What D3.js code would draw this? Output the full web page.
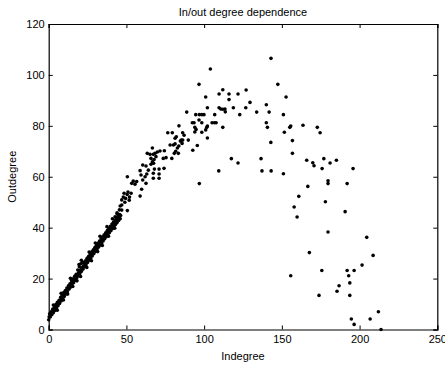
<!DOCTYPE html>
<html>
<head>
<meta charset="utf-8">
<script src="https://cdn.jsdelivr.net/npm/d3@7"></script>
<style>
  body { margin: 0; background: #fff; }
  text { font-family: "Liberation Sans", Arial, sans-serif; }
</style>
</head>
<body>
<script>
// indegree vs outdegree

// dense band near the origin
const band = [
  [0,3.8],[0.3,5],[0.6,6.2],[1,4.9],[1.2,6],[1.5,7],[2,5.8],[2.3,6.9],[2.6,8],
  [3,6.6],[3.3,7.8],[3.7,8.8],[4,7.5],[4.2,8.7],[4.6,9.8],[5,8.4],[5.3,9.6],[5.6,10.7],
  [6,9.3],[6.4,10.6],[6.7,11.5],[7,10.2],[7.3,11.4],[7.7,12.6],[8,11.2],[8.4,12.5],[8.7,13.4],
  [9,12.1],[9.3,13.2],[9.7,14.5],[10,13],[10.4,14.3],[10.7,15.3],[11,13.9],[11.3,15.2],[11.7,16.3],
  [12,14.8],[12.4,16.1],[12.7,17.2],[13,15.8],[13.3,17],[13.7,18],[14,16.6],[14.4,17.9],[14.7,19.1],
  [15,17.5],[15.3,18.8],[15.7,19.9],[16,18.4],[16.4,19.7],[16.7,20.9],[17,19.3],[17.3,20.6],[17.7,21.7],
  [18,20.2],[18.4,21.5],[18.7,23.4],[19,21],[19.3,22.4],[19.7,24.6],[20,21.9],[20.4,23.3],[20.7,25.8],
  [21,22.8],[21.3,24.2],[21.7,26.3],[22,23.7],[22.4,25],[22.7,26.4],[23,24.6],[23.3,25.9],[23.7,27],
  [24,25.4],[24.4,26.8],[24.7,28],[25,26.3],[25.3,27.6],[25.7,28.8],[26,27.2],[26.4,28.5],[26.7,29.7],
  [27,28],[27.3,29.3],[27.7,30.5],[28,28.9],[28.4,30.2],[28.7,31.3],[29,29.8],[29.3,31],[29.7,32.2],
  [30,30.6],[30.4,31.9],[30.7,33],[31,31.4],[31.3,32.7],[31.7,33.9],[32,32.3],[32.4,33.5],[32.7,34.7],
  [33,33.1],[33.3,34.4],[33.7,35.6],[34,33.9],[34.4,35.2],[34.7,36.4],[35,34.8],[35.3,36],[35.7,37.2],
  [36,35.6],[36.4,36.9],[36.7,38],[37,36.4],[37.3,37.7],[37.7,38.9],[38,37.2],[38.4,38.5],[38.7,39.7],
  [39,38],[39.3,39.3],[39.7,40.5],[40,38.8],[40.4,40.1],[40.7,41.4],[41,39.6],[41.3,40.9],[41.7,42.2],
  [42,40.4],[42.4,41.7],[42.7,43],[43,41.2],[43.3,42.5],[43.7,43.8],[44,42],[44.4,43.3],[44.7,44.5],
  [45,42.8],[45.3,44],[45.7,45.2],[46,43.5],[46.3,44.8]
];

// stray points along the edges of the band
const bandEdges = [
  [5.5,7.6],[9.5,11.6],[12.2,13.9],[15.5,16.9],[18.2,19.1],[20.5,20.8],[24.5,24.4],[27.5,27],
  [31.5,30.6],[34.5,33],[38.5,36.6],[42.5,39.8],[3,9.6],[8,14.2],[14,20.1],[19.5,25.5],
  [21,27.2],[26,30.4],[30,34],[33,36.6],[37.5,40.4],[41,43.5],[44,45.8]
];

// middle part, x 42..86
const middle = [
  [47,50.9],[47,48.9],[47,46.9],[50.6,46.7],[48,52],[48.5,53.5],[49.5,51.5],[50.5,53],[51,54],
  [52,52],[53,53.5],[49,50],[51.8,50.8],[44,45.5],[42.7,44.3],[44.8,45],[45.5,47],[46,48.5],
  [50.6,60],[54.4,58.3],[53.4,57.4],[55.5,57.1],[56.6,58.1],[59.8,55.1],[58.8,52.4],[58.8,62.4],
  [59.4,60.7],[60.5,58.7],[62.6,57.4],[60.5,64.6],[62.6,64.2],[65.8,64.9],[62,60],[63.1,61.1],
  [64.1,62.6],[68,63],[71,63],[74.2,63.3],[67.3,61.4],[71,61.1],[67.3,59.4],[71,59.4],[67.5,65.3],
  [63.4,69.2],[65.2,68.8],[67.3,68.8],[68.4,69.2],[65.8,67.2],[66.7,65.9],[67.8,66.8],[69,67.9],
  [66.7,71.3],[69.9,69.7],[71.6,70.1],[74.4,70.2],[73.7,67.2],[75.5,67.5],[79.2,67.2],[76.6,77.3],
  [79.5,77.3],[82.1,75.7],[81.3,75.1],[84.7,74],[78.1,72.5],[80.2,72.5],[81.3,72.9],[83.7,72.1],
  [82.8,71.3],[81.7,70],[83.4,69.2],[80.8,69.2],[83.8,80]
];

// upper cluster, x 85..160
const upper = [
  [143,106.5],[104,102.3],[96.7,96.3],[147.4,96.3],[112,94.2],[127,94.1],[109.6,92.5],[116,92.5],
  [121.8,92.5],[101,91.3],[152.7,91.3],[116,90.3],[129.5,89.2],[140,88.3],[102.1,87.1],[109.6,87.1],
  [110.7,86.6],[112,86.5],[113.4,86.6],[113.6,85.5],[118.8,87.1],[126.8,87.1],[88.8,85.4],[133.8,85.4],
  [141.8,85.4],[151,84.4],[94.6,84.4],[96.9,84.4],[98.5,84.4],[99.9,84.4],[106.8,84.4],[122.9,84.4],
  [96.7,82.3],[93.5,81.2],[92.4,81.2],[98.5,81.2],[105.1,81.2],[106.6,81.2],[107.7,81.2],[140,81.2],
  [102.1,79.9],[101.7,79.4],[94,79.4],[94.8,78.6],[94,77.6],[112,79.4],[140.7,79.4],[155.7,79.9],
  [155.1,79.4],[101,78.4],[98.5,77.5],[151.6,77.5],[86.2,77.3],[87.1,76.3],[102.1,75.2],[85.3,74.4],
  [86.2,74.4],[89.8,74.4],[85.8,73.1],[156.8,74.2],[142.9,73.5],[95.6,72.3],[92.7,70.4],[156.8,69.2],
  [117.5,67.1],[136.6,67.1],[121.8,65.4],[137.2,62.3],[143.1,62.3],[109.4,62.3],[96.9,57.3]
];

// falling tail, x 150..215
const tail = [
  [163.6,80.2],[172.8,79.4],[174.6,77.3],[166,66.5],[169.9,65.5],[170.7,64.3],[177,67.1],[181,65.4],
  [185.1,66.5],[175.9,63.2],[195.8,63.2],[151,61.2],[179.7,58.4],[179.7,57.3],[192,57.3],[166.7,56.2],
  [160.9,52.3],[178,50.2],[157.9,48.1],[190.7,46.3],[159.8,44.2],[179.7,38.3],[204.6,36.2],[167.7,30.2],
  [208.7,29.1],[201.6,25.3],[155.7,21.1],[175.7,23.2],[192,23.2],[196.5,23.2],[193,21.1],[193.7,18.3],
  [186.8,17.2],[185.5,15],[173.9,13.4],[193.7,13.4],[212.1,7],[194.7,4.1],[206.8,4.1],[196.5,2],[213.8,0]
];

const xTicks = [0, 50, 100, 150, 200, 250];
const yTicks = [0, 20, 40, 60, 80, 100, 120];

const width = 445, height = 366;
const box = { left: 48.7, right: 437.3, top: 24, bottom: 329.5 };

const x = d3.scaleLinear().domain([0, 250]).range([box.left, box.right]);
const y = d3.scaleLinear().domain([0, 120]).range([box.bottom, box.top]);

const svg = d3.select('body').append('svg')
    .attr('width', width)
    .attr('height', height);

svg.append('rect')
    .attr('width', width).attr('height', height)
    .attr('fill', '#fff');

const points = band.concat(bandEdges, middle, upper, tail);

svg.append('g')
    .selectAll('circle')
    .data(points)
    .join('circle')
    .attr('cx', d => x(d[0]))
    .attr('cy', d => y(d[1]))
    .attr('r', 1.8)
    .attr('fill', '#000');

// box with inward ticks, MATLAB style
const xb = svg.append('g')
    .attr('transform', `translate(0,${box.bottom})`)
    .call(d3.axisBottom(x).tickValues(xTicks).tickSize(-4).tickPadding(6).tickFormat(d3.format('d')));
const xt = svg.append('g')
    .attr('transform', `translate(0,${box.top})`)
    .call(d3.axisTop(x).tickValues(xTicks).tickSize(-4).tickFormat(''));
const yl = svg.append('g')
    .attr('transform', `translate(${box.left},0)`)
    .call(d3.axisLeft(y).tickValues(yTicks).tickSize(-4).tickPadding(4).tickFormat(d3.format('d')));
const yr = svg.append('g')
    .attr('transform', `translate(${box.right},0)`)
    .call(d3.axisRight(y).tickValues(yTicks).tickSize(-4).tickFormat(''));

[xb, xt, yl, yr].forEach(g => {
  g.select('.domain').attr('stroke', '#000').attr('stroke-width', 1.2);
  g.selectAll('.tick line').attr('stroke', '#000');
  g.selectAll('.tick text').attr('fill', '#000').style('font-size', '11px')
    .style('font-family', '"Liberation Sans", Arial, sans-serif');
});

svg.append('text')
    .attr('x', (box.left + box.right) / 2)
    .attr('y', 16)
    .attr('text-anchor', 'middle')
    .style('font-size', '11px')
    .text('In/out degree dependence');

svg.append('text')
    .attr('x', (box.left + box.right) / 2)
    .attr('y', 360)
    .attr('text-anchor', 'middle')
    .style('font-size', '11px')
    .text('Indegree');

svg.append('text')
    .attr('transform', `translate(16,${(box.top + box.bottom) / 2}) rotate(-90)`)
    .attr('text-anchor', 'middle')
    .style('font-size', '11px')
    .text('Outdegree');
</script>
</body>
</html>
